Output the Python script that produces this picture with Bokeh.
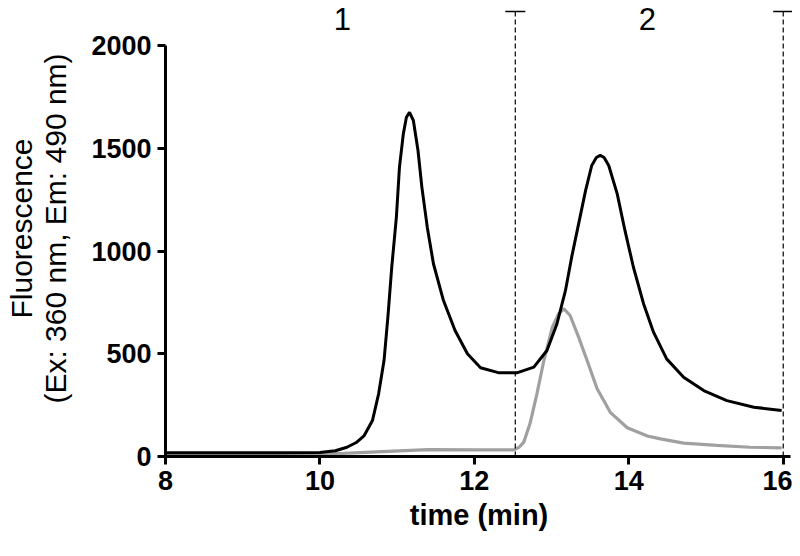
from bokeh.plotting import figure
from bokeh.models import Range1d, FixedTicker, Label
from bokeh.embed import file_html
from bokeh.resources import INLINE

# ---- data ----
black_t = [8.0, 8.5, 9.0, 9.5, 10.0, 10.2, 10.35, 10.47, 10.57, 10.68, 10.76, 10.83,
           10.88, 10.93, 10.99, 11.03, 11.08, 11.12, 11.16, 11.21, 11.27, 11.32, 11.39,
           11.47, 11.60, 11.75, 11.91, 12.08, 12.31, 12.55, 12.77, 12.94, 13.07, 13.18,
           13.26, 13.35, 13.44, 13.52, 13.58, 13.63, 13.68, 13.74, 13.85, 13.95, 14.06,
           14.19, 14.32, 14.49, 14.71, 14.97, 15.27, 15.62, 15.98]
black_v = [18, 18, 18, 18, 20, 28, 45, 68, 100, 175, 305, 467,
           678, 921, 1165, 1408, 1570, 1651, 1675, 1635, 1489, 1311, 1116,
           938, 759, 613, 500, 432, 408, 407, 435, 516, 646, 808,
           970, 1132, 1294, 1416, 1455, 1465, 1455, 1416, 1278, 1100, 921,
           745, 605, 475, 386, 321, 272, 240, 224]

gray_t = [8.0, 9.0, 10.0, 10.3, 10.8, 11.4, 12.08, 12.51, 12.58, 12.64, 12.72, 12.81,
          12.90, 13.01, 13.09, 13.16, 13.24, 13.35, 13.46, 13.59, 13.76, 13.98, 14.24,
          14.41, 14.71, 15.14, 15.57, 15.98]
gray_v = [12, 12, 14, 15, 24, 33, 32, 32, 45, 70, 159, 305,
          467, 629, 694, 719, 686, 581, 467, 330, 215, 140, 100,
          86, 65, 54, 45, 42]

divider_t = [12.53, 16.0]
divider_top = 2165
region_labels = ["1", "2"]
region_label_t = [10.29, 14.24]
region_label_y = 2131

x_ticks = [8, 10, 12, 14, 16]
y_ticks = [0, 500, 1000, 1500, 2000]

FONT = "Liberation Sans"
Y_END = 2219

p = figure(width=792, height=540, output_backend="svg", toolbar_location=None,
           x_range=Range1d(8, 16.12), y_range=Range1d(0, Y_END),
           min_border_left=165, min_border_right=0, min_border_top=0,
           min_border_bottom=84)
p.outline_line_color = None
p.grid.grid_line_color = None
p.background_fill_color = "white"
p.border_fill_color = "white"

# curves
p.line(gray_t, gray_v, line_color="#a0a0a0", line_width=3.2)
p.line(black_t, black_v, line_color="black", line_width=3)

# dashed dividers with caps
cap_half = 0.13
for t in divider_t:
    p.segment(x0=[t], y0=[0], x1=[t], y1=[divider_top], line_color="black",
              line_width=1.2, line_dash="5 3")
    p.segment(x0=[t - cap_half], y0=[divider_top], x1=[t + cap_half], y1=[divider_top],
              line_color="black", line_width=1.5)

for lab, t in zip(region_labels, region_label_t):
    p.add_layout(Label(x=t, y=region_label_y, text=lab, text_font=FONT,
                       text_font_size="31px", text_align="center",
                       text_baseline="middle", text_color="black"))

# axes
for ax in (p.xaxis[0], p.yaxis[0]):
    ax.axis_line_width = 3
    ax.axis_line_color = "black"
    ax.major_tick_line_width = 3
    ax.major_tick_line_color = "black"
    ax.major_tick_out = 8
    ax.major_tick_in = 0
    ax.minor_tick_line_color = None
    ax.major_label_text_font = FONT
    ax.major_label_text_font_style = "bold"
    ax.major_label_text_font_size = "27px"
    ax.major_label_text_color = "black"

p.xaxis.ticker = FixedTicker(ticks=x_ticks)
p.yaxis.ticker = FixedTicker(ticks=y_ticks)
p.xaxis.bounds = (8, 16.1)
p.yaxis.bounds = (0, 2000)
p.xaxis.major_label_standoff = 6
p.yaxis.major_label_standoff = 6

p.xaxis.axis_label = "time (min)"
p.xaxis.axis_label_text_font = FONT
p.xaxis.axis_label_text_font_style = "bold"
p.xaxis.axis_label_text_font_size = "29px"
p.xaxis.axis_label_text_color = "black"
p.xaxis.axis_label_standoff = 6

p.yaxis.axis_label = "Fluorescence\n(Ex: 360 nm, Em: 490 nm)"
p.yaxis.axis_label_text_font = FONT
p.yaxis.axis_label_text_font_style = "normal"
p.yaxis.axis_label_text_font_size = "30px"
p.yaxis.axis_label_text_line_height = 1.05
p.yaxis.axis_label_standoff = 16
p.yaxis.axis_label_text_color = "black"

open("out.html", "w").write(file_html(p, INLINE))
